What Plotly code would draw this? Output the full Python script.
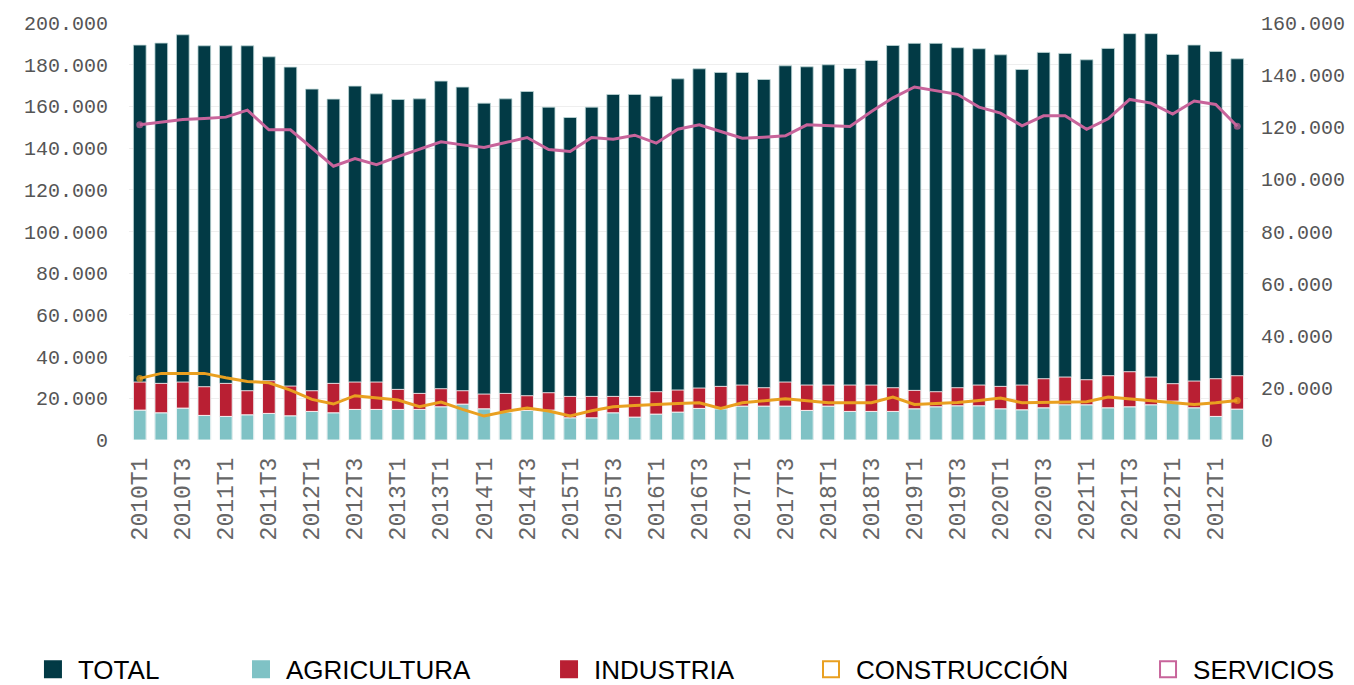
import plotly.graph_objects as go

quarters = [f"{y}T{q}" for y in range(2010, 2023) for q in range(1, 5)]
tick_labels = ["2010T1", "2010T3", "2011T1", "2011T3", "2012T1", "2012T3", "2013T1", "2013T1",
               "2014T1", "2014T3", "2015T1", "2015T3", "2016T1", "2016T3", "2017T1", "2017T3",
               "2018T1", "2018T3", "2019T1", "2019T3", "2020T1", "2020T3", "2021T1", "2021T3",
               "2012T1", "2012T1"]

total = [189400, 190370, 194350, 189070, 189070, 189070, 183790, 178840, 168290, 163490, 169730, 166030,
         163300, 163630, 172130, 169250, 161550, 163630, 167150, 159630, 154670, 159630, 165710, 165710,
         164910, 173230, 178030, 176270, 176270, 172910, 179470, 178990, 179950, 178190, 182030, 189230,
         190230, 190230, 188150, 187660, 184750, 177690, 185900, 185420, 182350, 187820, 194890, 194890,
         184930, 189420, 186380, 182830]
agricultura = [14350, 13070, 15310, 11790, 11310, 12110, 12750, 11630, 13710, 13070, 14670, 14670,
               14670, 14670, 15950, 17230, 14990, 13390, 14190, 14350, 10670, 10670, 13070, 10990,
               12430, 13390, 15150, 14990, 16270, 16270, 16270, 14190, 16270, 13710, 13710, 13710,
               14990, 15950, 16430, 16430, 14990, 14510, 15470, 16910, 16910, 15470, 15950, 16910,
               18670, 15470, 11310, 14830]
industria = [13440, 14080, 12480, 13760, 15840, 11520, 15680, 14240, 9920, 14080, 13120, 13120,
             9600, 7680, 8640, 6400, 7040, 8960, 7040, 8320, 10240, 10240, 7840, 9920,
             10720, 10560, 9760, 10720, 10080, 8800, 11520, 12160, 10080, 12640, 12640, 11360,
             8800, 7200, 8640, 9920, 10720, 11840, 13920, 13280, 12000, 15360, 16800, 13280,
             8340, 12800, 18080, 16000]
construccion = [23640, 25560, 25560, 25560, 23900, 22490, 21980, 19160, 15580, 13790, 16990, 16220,
                15320, 12760, 14550, 11740, 9180, 10970, 12250, 11100, 9180, 11230, 12760, 13270,
                13790, 14040, 14300, 12120, 14300, 15060, 15830, 15060, 14300, 14300, 14300, 16470,
                13660, 14040, 14420, 15190, 16090, 14300, 14420, 14550, 14680, 16470, 15700, 14940,
                14420, 13660, 14300, 15190]
servicios = [120920, 121950, 122960, 123350, 123880, 126570, 119000, 119000, 111970, 105060, 107990, 105680,
             108750, 111710, 114390, 113240, 112220, 114140, 116060, 111450, 110680, 116060, 115420, 116950,
             113880, 119260, 120920, 118360, 115800, 116190, 116700, 120920, 120670, 120280, 126040, 131290,
             135440, 134170, 132630, 127720, 125410, 120540, 124380, 124380, 119230, 123230, 130680, 129260,
             125030, 130060, 128760, 120390]

names = ["TOTAL", "AGRICULTURA", "INDUSTRIA", "CONSTRUCCIÓN", "SERVICIOS"]
C_TOTAL = "#023a45"
C_AGRI = "#7fc2c5"
C_IND = "#b91f33"
C_CONS = "#e9a020"
C_SERV = "#c8649b"

end_sizes = [7] + [0] * (len(quarters) - 2) + [7]

fig = go.Figure()
fig.add_trace(go.Bar(x=quarters, y=total, marker=dict(color=C_TOTAL, line=dict(color="rgba(190,215,215,0.8)", width=1)),
                     showlegend=False, name=names[0]))
fig.add_trace(go.Bar(x=quarters, y=agricultura, marker=dict(color=C_AGRI, line=dict(color="rgba(255,255,255,0.85)", width=1)),
                     showlegend=False, name=names[1]))
fig.add_trace(go.Bar(x=quarters, y=industria, base=agricultura,
                     marker=dict(color=C_IND, line=dict(color="rgba(255,255,255,0.85)", width=1)),
                     showlegend=False, name=names[2]))
fig.add_trace(go.Scatter(x=quarters, y=construccion, yaxis="y2", mode="lines+markers",
                         line=dict(color=C_CONS, width=3),
                         marker=dict(size=end_sizes, color=C_CONS, line=dict(width=0)),
                         showlegend=False, name=names[3]))
fig.add_trace(go.Scatter(x=quarters, y=servicios, yaxis="y2", mode="lines+markers",
                         line=dict(color=C_SERV, width=3),
                         marker=dict(size=end_sizes, color=C_SERV, line=dict(width=0)),
                         showlegend=False, name=names[4]))

# legend entries, one legend box per item so each sits where the reference has it
legend_specs = [(names[0], "square", C_TOTAL, "legend", -0.0903),
                (names[1], "square", C_AGRI, "legend2", 0.0956),
                (names[2], "square", C_IND, "legend3", 0.3709),
                (names[3], "square-open", C_CONS, "legend4", 0.6050),
                (names[4], "square-open", C_SERV, "legend5", 0.9062)]
legend_layouts = {}
for nm, sym, col, lg, lx in legend_specs:
    fig.add_trace(go.Scatter(x=[None], y=[None], mode="markers", name=nm, legend=lg,
                             marker=dict(symbol=sym, size=16, color=col, line=dict(color=col, width=2))))
    legend_layouts[lg] = dict(orientation="h", x=lx, xanchor="left", y=-0.55, yanchor="middle",
                              font=dict(family="Liberation Sans", size=26, color="#000000"),
                              itemsizing="trace", itemwidth=40, bgcolor="rgba(0,0,0,0)")

fig.update_layout(
    width=1346, height=677,
    barmode="overlay", bargap=0.41,
    plot_bgcolor="white", paper_bgcolor="white",
    margin=dict(l=121, r=106, t=15, b=245, autoexpand=False),
    font=dict(family="Liberation Mono", color="#555555"),
    xaxis=dict(type="category", range=[-0.5, 51.5], tickmode="array", tickvals=quarters[::2], ticktext=tick_labels,
               tickangle=-90, tickfont=dict(family="Liberation Mono", size=23, color="#666666"),
               showgrid=False, showline=False, ticks="", ticklabelstandoff=12, automargin=False),
    yaxis=dict(range=[0, 200000], dtick=20000, tickformat=",.0f", showgrid=True, gridcolor="#eeeeee",
               gridwidth=1, zeroline=False, showline=False, ticks="", automargin=False,
               tickfont=dict(family="Liberation Mono", size=20, color="#555555"), ticklabelstandoff=20),
    yaxis2=dict(range=[0, 160000], dtick=20000, tickformat=",.0f", overlaying="y", side="right",
                showgrid=False, zeroline=False, showline=False, ticks="", automargin=False,
                tickfont=dict(family="Liberation Mono", size=20, color="#555555"), ticklabelstandoff=12),
    separators=",.",
    **legend_layouts,
)

fig.write_html("out.html")
